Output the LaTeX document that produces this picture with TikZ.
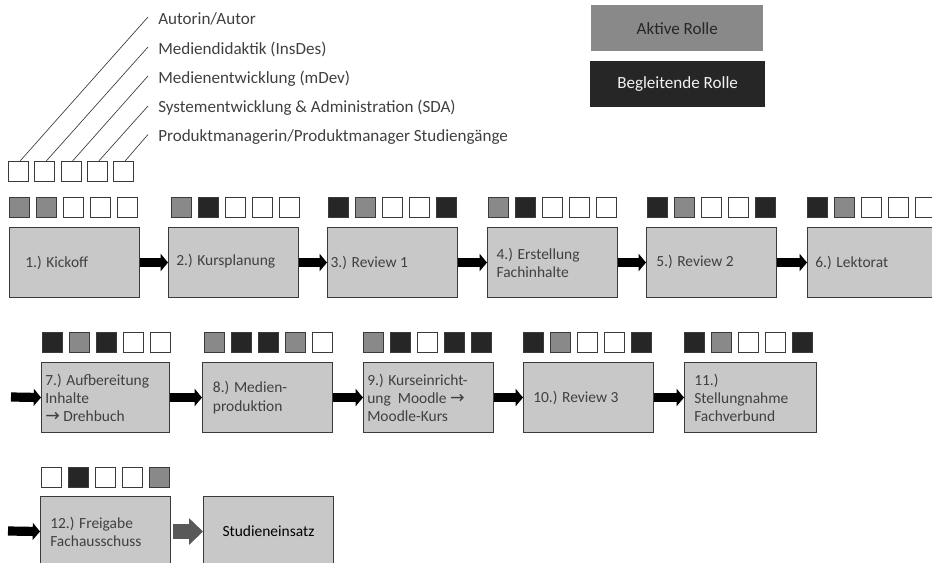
\documentclass[tikz,border=0pt]{standalone}
\usepackage{fontspec}
\setmainfont{Carlito}
\newfontfamily\arrowfont{DejaVu Sans}
\usetikzlibrary{arrows.meta}

\definecolor{boxfill}{HTML}{C8C8C8}
\definecolor{active}{HTML}{898989}
\definecolor{accomp}{HTML}{262626}
\definecolor{edge}{HTML}{3A3A3A}
\definecolor{txt}{HTML}{404040}
\definecolor{bigarrow}{HTML}{595959}

\tikzset{
  stepbox/.style={draw=edge, line width=0.8pt, fill=boxfill, minimum width=97.5pt,
    minimum height=52.5pt, anchor=north west, inner sep=0pt},
  steptext/.style={anchor=west, inner sep=0pt, align=left, text=txt,
    font=\fontsize{11.6}{13.6}\selectfont},
  role/.style={draw=edge, line width=0.7pt, minimum size=15pt, anchor=north west, inner sep=0pt},
  rolelabel/.style={anchor=base west, inner sep=0pt, text=txt, font=\fontsize{12.8}{15}\selectfont},
  legendbox/.style={anchor=north west, inner sep=0pt, font=\fontsize{12.8}{15}\selectfont},
  flow/.style={line width=6.9pt, -{Triangle[length=5.5pt, width=12.8pt]}},
  bigflow/.style={bigarrow, line width=11.25pt, -{Triangle[length=10.5pt, width=19.5pt]}},
  pointer/.style={edge, line width=0.5pt}
}

% right arrow glyph used inside captions
\newcommand\toarrow{{\arrowfont\fontsize{13}{13.6}\selectfont →}}

% box with its caption set flush left at a given inset
\newcommand\stepnode[6][]{%
  \node[stepbox,#1] (#2) at (#3,#4) {};
  \node[steptext] (#2t) at ([xshift=#5]#2.west) {#6};}

% a row of five role squares
\newcommand\rolerow[4]{%
  \foreach \c [count=\i from 0] in {#4}
    \node[role, fill=\c] (#1-\i) at (#2+27*\i,#3) {};}

\begin{document}
\begin{tikzpicture}[x=0.75pt,y=-0.75pt]
\clip (0,0) rectangle (932,563);

% key to the roles
\foreach \i in {0,...,4}
  \node[role, fill=white] (k\i) at (8+26.25*\i,161) {};
\node[rolelabel] (r0) at (158,25)  {Autorin/Autor};
\node[rolelabel] (r1) at (158,54.5)  {Mediendidaktik (InsDes)};
\node[rolelabel] (r2) at (158,84)  {Medienentwicklung (mDev)};
\node[rolelabel] (r3) at (158,113) {Systementwicklung \& Administration (SDA)};
\node[rolelabel] (r4) at (158,141.5) {Produktmanagerin/Produktmanager Studiengänge};
\foreach \i/\y in {0/17,1/47,2/76,3/106,4/134.5}
  \coordinate (e\i) at (148,\y);
\foreach \i in {0,...,4}
  \draw[pointer] ([xshift=1.2pt]k\i.north) -- (e\i);

% key to the shades
\node[legendbox, fill=active, minimum width=129pt, minimum height=34.5pt, text=accomp]
  (aktiv) at (591,5) {Aktive Rolle};
\node[legendbox, fill=accomp, minimum width=131pt, minimum height=34.5pt, text=white!95!black]
  (begl) at (590,61) {Begleitende Rolle};

% first row
\rolerow{g1}{9}{197}{active,active,white,white,white}
\rolerow{g2}{171}{197}{active,accomp,white,white,white}
\rolerow{g3}{328}{197}{accomp,active,white,white,accomp}
\rolerow{g4}{488}{197}{active,accomp,white,white,white}
\rolerow{g5}{647}{197}{accomp,active,white,white,accomp}
\rolerow{g6}{807}{197}{accomp,active,white,white,white}

\stepnode{b1}{9}{227}{12pt}{1.) Kickoff}
\stepnode{b2}{168}{227}{6pt}{\raisebox{4pt}{2.) Kursplanung}}
\stepnode{b3}{327}{227}{2.5pt}{3.) Review 1}
\stepnode{b4}{487}{227}{7pt}{4.) Erstellung\\Fachinhalte}
\stepnode{b5}{646}{227}{7.5pt}{\raisebox{3pt}{5.) Review 2}}
\stepnode{b6}{807}{227}{6pt}{6.) Lektorat}

\draw[flow] (b1.east) -- (b2.west);
\draw[flow] (b2.east) -- (b3.west);
\draw[flow] (b3.east) -- (b4.west);
\draw[flow] (b4.east) -- (b5.west);
\draw[flow] (b5.east) -- (b6.west);

% second row
\rolerow{g7}{42}{332}{accomp,active,accomp,white,white}
\rolerow{g8}{204}{332}{active,accomp,accomp,active,white}
\rolerow{g9}{363}{332}{active,accomp,white,accomp,accomp}
\rolerow{g10}{523}{332}{accomp,active,white,white,accomp}
\rolerow{g11}{684}{332}{accomp,active,white,white,accomp}

\stepnode[minimum width=96pt]{b7}{41}{362}{3pt}{7.) Aufbereitung\\Inhalte\\\toarrow\ Drehbuch}
\stepnode{b8}{202}{362}{8pt}{8.) Medien-\\produktion}
\stepnode{b9}{363}{362}{3pt}{9.) Kurseinricht-\\ung\ \ Moodle \toarrow\\Moodle-Kurs}
\stepnode{b10}{523}{362}{7.5pt}{10.) Review 3}
\stepnode[minimum width=99pt]{b11}{684}{362}{7.5pt}{11.)\\Stellungnahme\\Fachverbund}

\coordinate (in7) at (11,397);
\draw[flow] (in7) -- (b7.west);
\draw[flow] (b7.east) -- (b8.west);
\draw[flow] (b8.east) -- (b9.west);
\draw[flow] (b9.east) -- (b10.west);
\draw[flow] (b10.east) -- (b11.west);

% third row
\rolerow{g12}{41}{467}{white,accomp,white,white,active}
\stepnode{b12}{40}{496}{7.5pt}{12.) Freigabe\\Fachausschuss}
\node[stepbox, font=\fontsize{11.6}{13.6}\selectfont] (b13) at (203,496) {Studieneinsatz};

\coordinate (in12) at (8,531);
\draw[flow] (in12) -- (b12.west);
\draw[bigflow, shorten <=1.5pt] (b12.east) -- (b13.west);
\end{tikzpicture}
\end{document}
